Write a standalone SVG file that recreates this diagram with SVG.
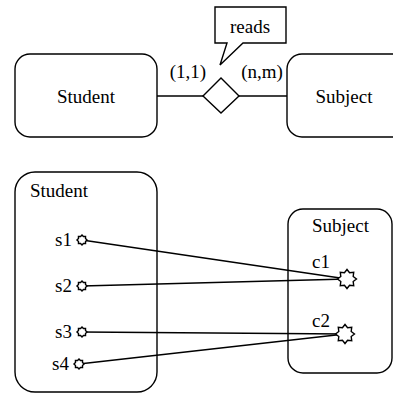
<svg xmlns="http://www.w3.org/2000/svg" xmlns:xlink="http://www.w3.org/1999/xlink" width="393" height="394" viewBox="0 0 393 394">
<style>
.s{fill:none;stroke:#000;stroke-width:1.4}
.w{fill:#fff;stroke:#000;stroke-width:1.4}
text{font-family:'Liberation Serif','DejaVu Serif',serif;font-size:19px;fill:#000}
.m{text-anchor:middle}
.e{text-anchor:end}
</style>
<defs>
<polygon id="big" class="w" points="9.5,0 6.2,2.57 6.72,6.72 2.57,6.2 0,9.5 -2.57,6.2 -6.72,6.72 -6.2,2.57 -9.5,0 -6.2,-2.57 -6.72,-6.72 -2.57,-6.2 0,-9.5 2.57,-6.2 6.72,-6.72 6.2,-2.57"/>
<polygon id="small" class="w" points="5,0 3.51,1.45 3.54,3.54 1.45,3.51 0,5 -1.45,3.51 -3.54,3.54 -3.51,1.45 -5,0 -3.51,-1.45 -3.54,-3.54 -1.45,-3.51 0,-5 1.45,-3.51 3.54,-3.54 3.51,-1.45"/>
</defs>
<rect width="393" height="394" fill="#fff"/>
<g id="student-top">
<rect class="s" x="15" y="54" width="142" height="83" rx="15"/>
<text class="m" x="86" y="103" font-family="Liberation Serif, serif">Student</text>
</g>
<g id="subject-top">
<rect class="s" x="287" y="54" width="120" height="83" rx="15"/>
<text class="m" x="344" y="103">Subject</text>
</g>
<g id="reads-rel">
<polygon class="w" points="203,96 221,78 239,96 221,113"/>
</g>
<g id="reads-callout">
<path class="w" d="M215,7 H286 V43 H243 L220,65 L227,43 H215 Z"/>
<text class="m" x="250" y="33">reads</text>
</g>
<g id="student-container">
<rect class="s" x="15" y="172" width="142" height="220" rx="20"/>
<text x="30" y="197">Student</text>
</g>
<g id="subject-container">
<rect class="s" x="288" y="209" width="104" height="164" rx="15"/>
<text x="312" y="232">Subject</text>
</g>
<g id="connectors">
<line class="s" x1="157" y1="96" x2="203" y2="96"/>
<line class="s" x1="239" y1="96" x2="287" y2="96"/>
<text class="m" x="188" y="78">(1,1)</text>
<text class="m" x="262" y="78">(n,m)</text>
<line class="s" x1="82" y1="240" x2="347" y2="279"/>
<line class="s" x1="82" y1="286" x2="347" y2="279"/>
<line class="s" x1="82" y1="332" x2="345" y2="334"/>
<line class="s" x1="79" y1="364" x2="345" y2="334"/>
</g>
<g id="s1"><use xlink:href="#small" x="82" y="240"/><text class="e" x="72" y="246">s1</text></g>
<g id="s2"><use xlink:href="#small" x="82" y="286"/><text class="e" x="72" y="292">s2</text></g>
<g id="s3"><use xlink:href="#small" x="82" y="332"/><text class="e" x="72" y="338">s3</text></g>
<g id="s4"><use xlink:href="#small" x="79" y="364"/><text class="e" x="69" y="370">s4</text></g>
<g id="c1"><use xlink:href="#big" x="347" y="279"/><text x="312" y="268">c1</text></g>
<g id="c2"><use xlink:href="#big" x="345" y="334"/><text x="312" y="327">c2</text></g>
</svg>
